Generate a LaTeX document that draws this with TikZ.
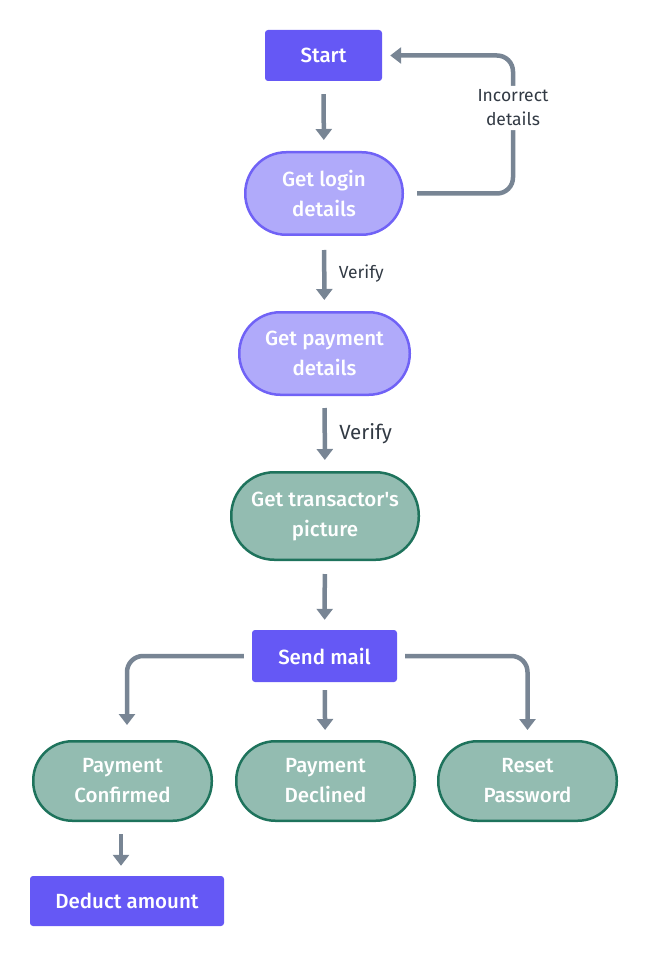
\documentclass[tikz,border=0pt]{standalone}
\usepackage{fontspec}
\setmainfont{Fira Sans}
\newfontfamily\medfont{Fira Sans Medium}
\usetikzlibrary{arrows.meta,positioning}
\definecolor{boxblue}{RGB}{101,88,245}
\definecolor{lavfill}{RGB}{176,170,250}
\definecolor{lavline}{RGB}{112,98,246}
\definecolor{tealfill}{RGB}{147,188,177}
\definecolor{tealline}{RGB}{30,115,92}
\definecolor{arrgray}{RGB}{120,133,148}
\definecolor{labgray}{RGB}{50,58,68}
\tikzset{rectbox/.style={rounded corners=3pt, fill=boxblue, text=white, font=\medfont\fontsize{20.5}{24}\selectfont, inner sep=0pt}}
\tikzset{pill/.style={line width=2.5pt, text=white, align=center, font=\medfont\fontsize{20.5}{30}\selectfont, inner sep=0pt}}
\tikzset{lavpill/.style={pill, fill=lavfill, draw=lavline}}
\tikzset{tealpill/.style={pill, fill=tealfill, draw=tealline}}
\tikzset{arr/.style={draw=arrgray, line width=4.5pt, -{Triangle[width=16pt,length=11pt]}, rounded corners=16pt}}
\tikzset{lbl/.style={text=labgray, font=\fontsize{17.5}{24}\selectfont, align=center}}

\begin{document}
\begin{tikzpicture}[x=1pt,y=1pt]
        \useasboundingbox (0,0) rectangle (648,-957);

        \node[rectbox, minimum width=117pt, minimum height=51pt] (start) at (323.5,-55.5) {Start};
        \node[lavpill, minimum width=157.5pt, minimum height=82.5pt, rounded corners=41pt] (login) at (324,-193.5) {Get login\\details};
        \node[lavpill, minimum width=170.5pt, minimum height=82.5pt, rounded corners=41pt] (payment) at (324.5,-353.5) {Get payment\\details};
        \node[tealpill, minimum width=187.5pt, minimum height=87.5pt, rounded corners=43pt] (picture) at (325,-516) {Get transactor's\\picture};
        \node[rectbox, minimum width=145pt, minimum height=52pt] (send) at (324.5,-656) {Send mail};

        \node[tealpill, minimum width=178.5pt, minimum height=79.5pt, rounded corners=39pt] (confirmed) at (122.5,-781) {Payment\\Confirmed};
        \node[tealpill, minimum width=178.5pt, minimum height=79.5pt, rounded corners=39pt] (declined) at (325.5,-781) {Payment\\Declined};
        \node[tealpill, minimum width=178.5pt, minimum height=79.5pt, rounded corners=39pt] (reset) at (527.5,-781) {Reset\\Password};
        \node[rectbox, minimum width=194pt, minimum height=50pt] (deduct) at (127,-901) {Deduct amount};

        \coordinate (loopx) at (513,0);

        \draw[arr, shorten <=13pt, shorten >=11pt] (start) -- (login);
        \draw[arr, shorten <=13pt, shorten >=8pt] (login.east) -- (login.east -| loopx)
            -- node[lbl, fill=white, inner sep=4pt, pos=0.62]{Incorrect\\details} (start.east -| loopx) -- (start.east);
        \draw[arr, shorten <=14pt, shorten >=11pt] (login) -- node[lbl, right=9pt]{Verify} (payment);
        \draw[arr, shorten <=12pt, shorten >=11pt] (payment) -- node[lbl, right=9pt, font=\fontsize{20.5}{24}\selectfont]{Verify} (picture);
        \draw[arr, shorten <=13pt, shorten >=10pt] (picture) -- (send);

        \draw[arr, shorten <=8pt, shorten >=15pt] (send.west) -| ([xshift=4.5pt]confirmed.north);
        \draw[arr, shorten <=8pt, shorten >=10pt] (send) -- (declined);
        \draw[arr, shorten <=8pt, shorten >=10pt] (send.east) -| (reset.north);
        \draw[arr, shorten <=12pt, shorten >=10pt] ([xshift=-1.5pt]confirmed.south) -- ([xshift=-1.5pt]confirmed.south |- deduct.north);
\end{tikzpicture}
\end{document}
